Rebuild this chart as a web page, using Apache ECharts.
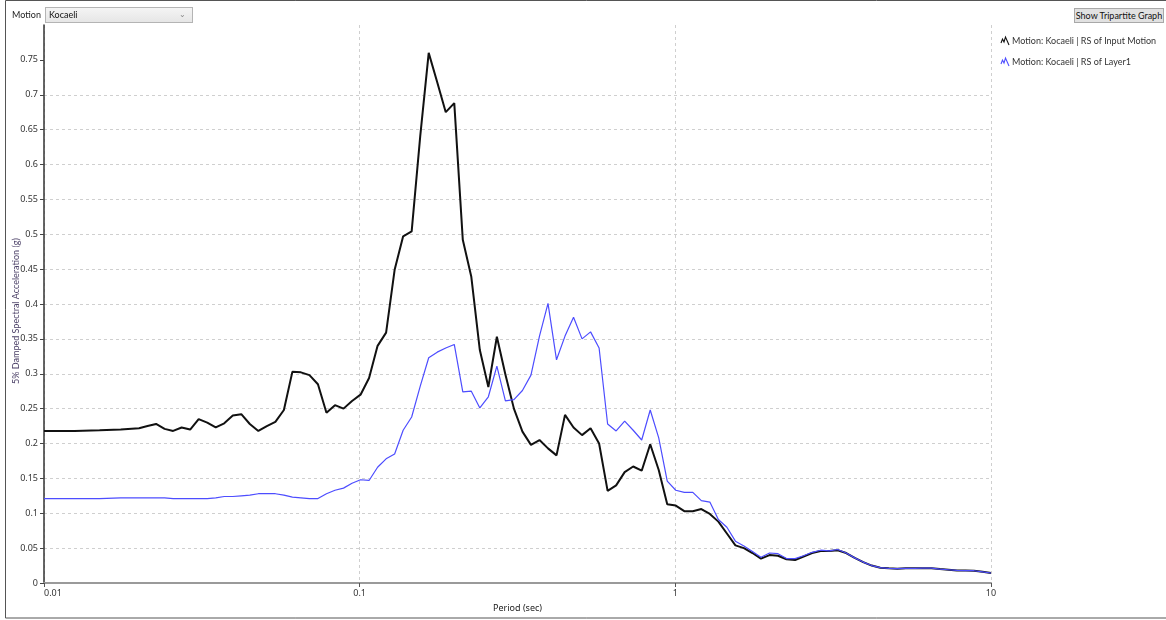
<!DOCTYPE html>
<html>
<head>
<meta charset="utf-8">
<script src="https://cdn.jsdelivr.net/npm/echarts@6/dist/echarts.min.js"></script>
<style>
  html, body { margin: 0; padding: 0; background: #fff; }
  #wrap { position: relative; width: 1166px; height: 620px; font-family: Lato, "Noto Sans", sans-serif; }
  #chart { position: absolute; left: 0; top: 0; width: 1166px; height: 620px; }
  .lbl { position: absolute; font-size: 9px; color: #222; line-height: 14px; }
  #motionSel { position: absolute; left: 45px; top: 7px; width: 146px; height: 14px; border: 1px solid #b4b4b4;
    background: linear-gradient(#f4f4f4, #e6e6e6); font-size: 9px; color: #111; line-height: 14px; box-sizing: content-box; }
  #motionSel span.v { position: absolute; left: 3px; top: 0; }
  #motionSel span.c { position: absolute; right: 6px; top: -1px; color: #888; font-size: 8px; }
  #tripBtn { position: absolute; left: 1074px; top: 8px; width: 88px; height: 13px; border: 1px solid #a8a8a8;
    background: #e1e1e1; font-size: 9px; color: #111; line-height: 13px; text-align: center; box-sizing: content-box;
    white-space: nowrap; overflow: hidden; }
</style>
</head>
<body>
<div id="wrap">
  <div id="chart"></div>
  <div class="lbl" style="left:12px;top:8px;">Motion</div>
  <div id="motionSel"><span class="v">Kocaeli</span><span class="c">&#8964;</span></div>
  <div id="tripBtn">Show Tripartite Graph</div>
</div>
<script>
// Spectral periods (sec)
const periods = [
  0.01, 0.0125, 0.015, 0.0175,
  0.02000, 0.02128, 0.02265, 0.02410, 0.02565, 0.02729, 0.02904, 0.03090, 0.03289, 0.03500,
  0.03724, 0.03963, 0.04217, 0.04487, 0.04775, 0.05081, 0.05407, 0.05754, 0.06123, 0.06515,
  0.06933, 0.07376, 0.07849, 0.08352, 0.08888, 0.09458, 0.10064, 0.10710, 0.11396, 0.12127,
  0.12905, 0.13732, 0.14613, 0.15550, 0.16547, 0.17608, 0.18737, 0.19939, 0.21217, 0.22578,
  0.24026, 0.25567, 0.27206, 0.28951, 0.30807, 0.32783, 0.34885, 0.37122, 0.39503, 0.42036,
  0.44721, 0.47589, 0.50641, 0.53888, 0.57344, 0.61021, 0.64934, 0.69098, 0.73529, 0.78244,
  0.83261, 0.8859, 0.9427, 1.0032, 1.0675, 1.1360, 1.2088, 1.2863, 1.3688, 1.4566,
  1.5500, 1.6494, 1.7551, 1.8677, 1.9874, 2.1149, 2.2505, 2.3948, 2.5484, 2.7118,
  2.8857, 3.0706, 3.2675, 3.4770, 3.7000, 3.9372, 4.1897, 4.4583, 4.7442, 5.0484,
  5.3721, 5.7173, 6.0839, 6.4740, 6.8891, 7.3309, 7.8010, 8.3012, 8.8335, 9.3999,
  10.000
];

// 5% damped spectral acceleration (g) of the input motion
const inputMotion = [
  0.218, 0.218, 0.219, 0.220,
  0.222, 0.225, 0.228, 0.221, 0.218, 0.223, 0.220, 0.235, 0.230, 0.223,
  0.229, 0.240, 0.242, 0.228, 0.218, 0.225, 0.231, 0.248, 0.303, 0.302,
  0.298, 0.285, 0.244, 0.255, 0.250, 0.261, 0.270, 0.294, 0.340, 0.359,
  0.449, 0.497, 0.504, 0.640, 0.760, 0.718, 0.675, 0.688, 0.492, 0.439,
  0.334, 0.281, 0.353, 0.299, 0.250, 0.217, 0.198, 0.205, 0.193, 0.183,
  0.241, 0.223, 0.212, 0.222, 0.200, 0.132, 0.140, 0.159, 0.167, 0.161,
  0.199, 0.162, 0.113, 0.111, 0.103, 0.103, 0.106, 0.099, 0.088, 0.071,
  0.054, 0.050, 0.043, 0.035, 0.040, 0.039, 0.034, 0.033, 0.038, 0.043,
  0.046, 0.046, 0.047, 0.043, 0.036, 0.030, 0.025, 0.022, 0.021, 0.0205,
  0.021, 0.021, 0.0212, 0.0212, 0.020, 0.019, 0.018, 0.0178, 0.0176, 0.016,
  0.0143
];

// 5% damped spectral acceleration (g) at Layer1
const layer1 = [
  0.121, 0.121, 0.121, 0.122,
  0.122, 0.122, 0.122, 0.122, 0.121, 0.121, 0.121, 0.121, 0.121, 0.122,
  0.124, 0.124, 0.125, 0.126, 0.128, 0.128, 0.128, 0.126, 0.123, 0.122,
  0.121, 0.121, 0.128, 0.133, 0.136, 0.143, 0.148, 0.147, 0.166, 0.178,
  0.185, 0.219, 0.238, 0.282, 0.323, 0.331, 0.337, 0.342, 0.274, 0.275,
  0.251, 0.267, 0.311, 0.261, 0.263, 0.276, 0.298, 0.354, 0.401, 0.320,
  0.354, 0.381, 0.350, 0.360, 0.337, 0.228, 0.218, 0.232, 0.219, 0.205,
  0.248, 0.208, 0.146, 0.133, 0.130, 0.130, 0.118, 0.116, 0.091, 0.080,
  0.060, 0.053, 0.045, 0.037, 0.043, 0.042, 0.035, 0.035, 0.039, 0.044,
  0.047, 0.046, 0.048, 0.043, 0.036, 0.030, 0.025, 0.022, 0.021, 0.0205,
  0.021, 0.021, 0.0212, 0.0212, 0.020, 0.019, 0.018, 0.0178, 0.0176, 0.016,
  0.0143
];

const seriesNames = ['Motion: Kocaeli | RS of Input Motion', 'Motion: Kocaeli | RS of Layer1'];
const seriesColors = ['#111111', '#4d4dff'];
const yTicks = [0, 0.05, 0.1, 0.15, 0.2, 0.25, 0.3, 0.35, 0.4, 0.45, 0.5, 0.55, 0.6, 0.65, 0.7, 0.75];
const yTitle = '5% Damped Spectral Acceleration (g)';

const FONT = '"Noto Sans", "Open Sans", sans-serif';
const FONT_N = 'Lato, "Noto Sans", sans-serif';
const pair = vals => periods.map((p, i) => [p, vals[i]]);

const chart = echarts.init(document.getElementById('chart'), null, { renderer: 'canvas' });

// small zig-zag legend glyph next to each series name
function legendItem(y, color, text) {
  return [
    {
      type: 'polyline',
      shape: { points: [[1001, y + 2], [1002.5, y - 2], [1004, y + 1], [1005.5, y - 4], [1009, y + 4]] },
      style: { stroke: color, lineWidth: 1.1, fill: null }
    },
    {
      type: 'text', x: 1012, y: y,
      style: { text: text, fill: '#333', font: '9px ' + FONT_N, verticalAlign: 'middle', align: 'left' }
    }
  ];
}

const splitColors = yTicks.map(() => '#cfcfcf').concat(['rgba(0,0,0,0)']);

chart.setOption({
  animation: false,
  backgroundColor: '#ffffff',
  grid: { left: 44, right: 175, top: 25, bottom: 37, containLabel: false, outerBoundsMode: 'none' },
  xAxis: {
    type: 'log', logBase: 10, min: 0.01, max: 10,
    name: 'Period (sec)', nameLocation: 'middle', nameGap: 21,
    nameTextStyle: { fontFamily: FONT, fontSize: 9, color: '#222' },
    axisLine: { show: true, lineStyle: { color: '#9a9a9a', width: 2 } },
    axisTick: { show: true, length: 4, lineStyle: { color: '#555' } },
    axisLabel: { fontFamily: FONT, fontSize: 9, color: '#333', margin: 6, alignMinLabel: 'left',
      formatter: v => String(+v.toPrecision(3)) },
    splitLine: { show: true, lineStyle: { color: '#cfcfcf', type: [3, 3], width: 1 } },
    minorTick: { show: false }, minorSplitLine: { show: false }
  },
  yAxis: {
    type: 'value', min: 0, max: 0.8, interval: 0.05,
    axisLine: { show: true, lineStyle: { color: '#333', width: 1.5 } },
    axisTick: { show: true, length: 4, customValues: yTicks, lineStyle: { color: '#444' } },
    axisLabel: { fontFamily: FONT, fontSize: 9, color: '#333', margin: 6,
      customValues: yTicks, formatter: v => String(+(+v).toFixed(2)) },
    splitLine: { show: true, showMaxLine: false, lineStyle: { color: splitColors, type: [3, 3], width: 1 } }
  },
  legend: { show: false },
  series: [
    {
      name: seriesNames[0], type: 'line', data: pair(inputMotion),
      showSymbol: false, symbol: 'none', smooth: false,
      lineStyle: { color: seriesColors[0], width: 2 }, itemStyle: { color: seriesColors[0] }, z: 2
    },
    {
      name: seriesNames[1], type: 'line', data: pair(layer1),
      showSymbol: false, symbol: 'none', smooth: false,
      lineStyle: { color: seriesColors[1], width: 1.2 }, itemStyle: { color: seriesColors[1] }, z: 3
    }
  ],
  graphic: [
    { type: 'rect', shape: { x: 5.5, y: 0.5, width: 1165, height: 617.5 },
      style: { fill: null, stroke: '#555', lineWidth: 1 }, silent: true },
    { type: 'text', x: 16, y: 311, rotation: Math.PI / 2,
      style: { text: yTitle, fill: '#4a3f66', font: '9px ' + FONT_N, align: 'center', verticalAlign: 'middle' } }
  ].concat(legendItem(41, seriesColors[0], seriesNames[0]), legendItem(62, seriesColors[1], seriesNames[1]))
});
</script>
</body>
</html>
